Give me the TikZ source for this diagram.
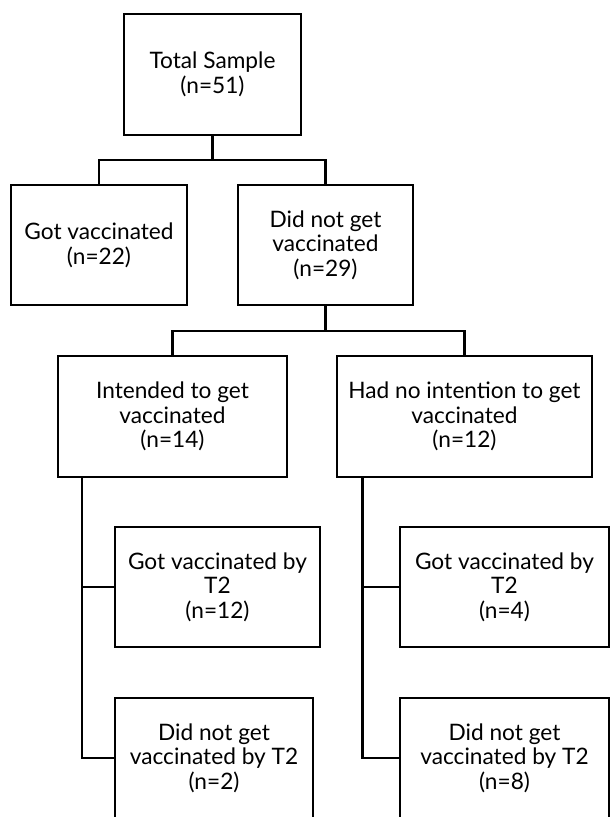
\documentclass[tikz,border=0pt]{standalone}
\usepackage{fontspec}
\setmainfont{Lato}
\begin{document}
\begin{tikzpicture}[x=0.75pt,y=-0.75pt,
  box/.style={draw=black,line width=2.1pt,rectangle,inner sep=0pt,align=center,
    font=\fontsize{17}{18.5}\selectfont},
  conn/.style={draw=black,line width=2.1pt}]
\useasboundingbox (0,0) rectangle (611,817);
\clip (0,0) rectangle (611,817);
\node[box,minimum width=177*0.75pt,minimum height=121*0.75pt] (tot) at (212.5,74.5) {Total Sample\\(n=51)};
\node[box,minimum width=176*0.75pt,minimum height=120*0.75pt] (gv) at (99,245) {Got vaccinated\\(n=22)};
\node[box,minimum width=175*0.75pt,minimum height=120*0.75pt] (dng) at (325.5,245) {Did not get\\vaccinated\\(n=29)};
\node[box,minimum width=229*0.75pt,minimum height=121*0.75pt] (int) at (172.5,416.5) {Intended to get\\vaccinated\\(n=14)};
\node[box,minimum width=255*0.75pt,minimum height=121*0.75pt] (noint) at (464.5,416.5) {Had no intention to get\\vaccinated\\(n=12)};
\node[box,minimum width=205*0.75pt,minimum height=120*0.75pt] (lt2) at (217.5,587) {Got vaccinated by\\T2\\(n=12)};
\node[box,minimum width=198*0.75pt,minimum height=120*0.75pt] (ln2) at (214,758) {Did not get\\vaccinated by T2\\(n=2)};
\node[box,minimum width=209*0.75pt,minimum height=120*0.75pt] (rt2) at (504.5,587) {Got vaccinated by\\T2\\(n=4)};
\node[box,minimum width=209*0.75pt,minimum height=120*0.75pt] (rn2) at (504.5,758) {Did not get\\vaccinated by T2\\(n=8)};
\coordinate (j1) at (212.5,160);
\coordinate (j2) at (325.5,331);
\coordinate (ls) at (82,477);
\coordinate (rs) at (362.5,477);
\draw[conn] (tot.south) -- (j1);
\draw[conn] (gv.north) |- (j1) -| (dng.north);
\draw[conn] (dng.south) -- (j2);
\draw[conn] (int.north) |- (j2) -| (noint.north);
\draw[conn] (ls) |- (ln2.west);
\draw[conn] (lt2.west) -- (lt2.west -| ls);
\draw[conn] (rs) |- (rn2.west);
\draw[conn] (rt2.west) -- (rt2.west -| rs);
\end{tikzpicture}
\end{document}
